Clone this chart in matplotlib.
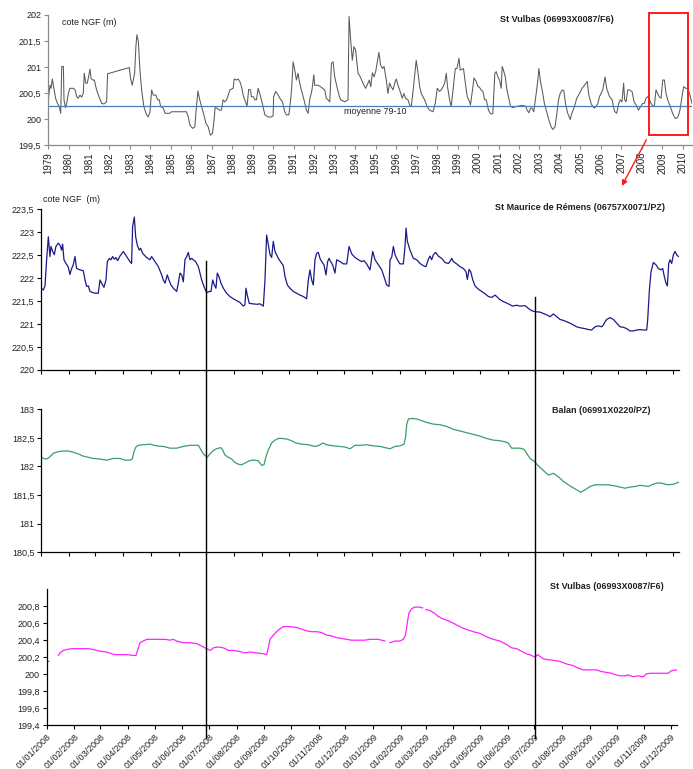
import numpy as np
import matplotlib
matplotlib.use("Agg")
import matplotlib.pyplot as plt
import matplotlib.dates as mdates
import matplotlib.transforms as mtransforms
from matplotlib.lines import Line2D
from matplotlib.patches import Rectangle
from matplotlib.ticker import FuncFormatter, FixedLocator

plt.rcParams['font.family'] = ['Liberation Sans', 'DejaVu Sans']

# --- St Vulbas long record 1979-2010 (decimal year, cote NGF m)
vul_year = [1979.00, 1979.03, 1979.10, 1979.15, 1979.21, 1979.29, 1979.37, 1979.46, 1979.55, 1979.62,
            1979.67, 1979.75, 1979.78, 1979.85, 1979.91, 1979.99, 1980.07, 1980.24, 1980.32, 1980.40,
            1980.48, 1980.56, 1980.64, 1980.72, 1980.77, 1980.84, 1980.92, 1981.00, 1981.05, 1981.10,
            1981.18, 1981.26, 1981.37, 1981.49, 1981.62, 1981.73, 1981.86, 1981.91, 1982.97, 1983.03,
            1983.11, 1983.16, 1983.23, 1983.29, 1983.34, 1983.41, 1983.49, 1983.57, 1983.68, 1983.81,
            1983.89, 1983.98, 1984.06, 1984.14, 1984.27, 1984.35, 1984.43, 1984.50, 1984.63, 1984.71,
            1984.95, 1985.03, 1985.76, 1985.85, 1985.93, 1986.06, 1986.17, 1986.22, 1986.32, 1986.41,
            1986.50, 1986.61, 1986.71, 1986.82, 1986.93, 1987.03, 1987.11, 1987.16, 1987.23, 1987.39,
            1987.47, 1987.55, 1987.63, 1987.72, 1987.80, 1987.88, 1988.04, 1988.09, 1988.20, 1988.28,
            1988.37, 1988.45, 1988.53, 1988.64, 1988.72, 1988.80, 1988.89, 1988.93, 1989.02, 1989.10,
            1989.18, 1989.26, 1989.34, 1989.42, 1989.50, 1989.59, 1989.75, 1989.91, 1989.99, 1990.02,
            1990.12, 1990.24, 1990.32, 1990.45, 1990.56, 1990.64, 1990.76, 1990.85, 1990.90, 1990.97,
            1991.05, 1991.13, 1991.21, 1991.29, 1991.37, 1991.50, 1991.62, 1991.70, 1991.78, 1991.89,
            1991.98, 1992.02, 1992.19, 1992.35, 1992.51, 1992.59, 1992.67, 1992.76, 1992.84, 1992.92,
            1993.00, 1993.11, 1993.21, 1993.29, 1993.49, 1993.65, 1993.70, 1993.78, 1993.86, 1993.94,
            1994.02, 1994.14, 1994.25, 1994.38, 1994.51, 1994.58, 1994.69, 1994.76, 1994.84, 1994.92,
            1995.00, 1995.16, 1995.24, 1995.33, 1995.41, 1995.52, 1995.60, 1995.68, 1995.76, 1995.85,
            1995.93, 1996.01, 1996.09, 1996.17, 1996.30, 1996.38, 1996.46, 1996.58, 1996.66, 1996.74,
            1996.85, 1996.98, 1997.07, 1997.15, 1997.23, 1997.39, 1997.50, 1997.63, 1997.80, 1997.91,
            1998.01, 1998.12, 1998.20, 1998.29, 1998.37, 1998.45, 1998.51, 1998.61, 1998.69, 1998.81,
            1998.89, 1998.97, 1999.07, 1999.13, 1999.23, 1999.29, 1999.37, 1999.47, 1999.59, 1999.63,
            1999.75, 1999.80, 1999.91, 1999.99, 2000.07, 2000.15, 2000.24, 2000.32, 2000.40, 2000.51,
            2000.61, 2000.72, 2000.77, 2000.82, 2000.89, 2000.97, 2001.05, 2001.13, 2001.18, 2001.24,
            2001.33, 2001.41, 2001.50, 2001.59, 2001.70, 2001.86, 2002.11, 2002.32, 2002.40, 2002.48,
            2002.56, 2002.64, 2002.72, 2002.84, 2002.92, 2002.97, 2003.05, 2003.13, 2003.24, 2003.33,
            2003.46, 2003.57, 2003.65, 2003.76, 2003.85, 2003.93, 2004.01, 2004.11, 2004.19, 2004.27,
            2004.38, 2004.50, 2004.58, 2004.71, 2004.82, 2004.95, 2005.08, 2005.20, 2005.33, 2005.41,
            2005.52, 2005.60, 2005.68, 2005.76, 2005.85, 2005.93, 2006.09, 2006.20, 2006.28, 2006.42,
            2006.55, 2006.61, 2006.68, 2006.77, 2006.87, 2006.95, 2007.03, 2007.11, 2007.16, 2007.23,
            2007.31, 2007.39, 2007.52, 2007.62, 2007.72, 2007.83, 2007.96, 2008.04, 2008.12, 2008.20,
            2008.29, 2008.37, 2008.45, 2008.53, 2008.61, 2008.69, 2008.77, 2008.85, 2008.94, 2009.02,
            2009.10, 2009.18, 2009.26, 2009.39, 2009.50, 2009.63, 2009.75, 2009.86, 2009.96, 2010.04,
            2010.15, 2010.24, 2010.35, 2010.45]
vul_level = [200.11, 200.43, 200.65, 200.59, 200.77, 200.59, 200.40, 200.30, 200.24, 200.11,
             201.01, 201.01, 200.37, 200.22, 200.30, 200.49, 200.59, 200.59, 200.56, 200.43,
             200.40, 200.46, 200.42, 200.49, 200.88, 200.69, 200.69, 200.85, 200.96, 200.78,
             200.75, 200.75, 200.56, 200.43, 200.30, 200.29, 200.33, 200.87, 200.99, 200.78,
             200.65, 200.75, 200.88, 201.39, 201.62, 201.49, 200.94, 200.56, 200.24, 200.08,
             200.04, 200.14, 200.56, 200.46, 200.46, 200.37, 200.37, 200.24, 200.21, 200.11,
             200.11, 200.14, 200.14, 200.04, 199.88, 199.82, 199.85, 200.11, 200.54, 200.37,
             200.24, 200.08, 199.92, 199.85, 199.69, 199.72, 199.98, 200.22, 200.21, 200.17,
             200.17, 200.37, 200.33, 200.37, 200.46, 200.56, 200.59, 200.77, 200.75, 200.77,
             200.72, 200.62, 200.46, 200.33, 200.25, 200.57, 200.56, 200.43, 200.43, 200.37,
             200.37, 200.59, 200.49, 200.37, 200.24, 200.08, 200.04, 200.04, 200.06, 200.43,
             200.53, 200.46, 200.40, 200.33, 200.14, 200.08, 200.08, 200.37, 200.61, 201.10,
             200.94, 200.75, 200.88, 200.69, 200.56, 200.37, 200.17, 200.11, 200.37, 200.56,
             200.85, 200.65, 200.65, 200.61, 200.56, 200.40, 200.37, 200.33, 201.07, 201.10,
             200.81, 200.62, 200.46, 200.37, 200.33, 200.37, 201.97, 201.52, 201.13, 201.39,
             201.33, 200.88, 200.81, 200.69, 200.59, 200.65, 200.75, 200.62, 200.89, 200.81,
             200.91, 201.28, 201.04, 200.97, 201.01, 200.75, 200.49, 200.69, 200.62, 200.56,
             200.69, 200.77, 200.65, 200.56, 200.40, 200.49, 200.40, 200.37, 200.27, 200.24,
             200.62, 201.13, 200.88, 200.62, 200.49, 200.37, 200.25, 200.17, 200.14, 200.30,
             200.59, 200.53, 200.56, 200.62, 200.69, 200.88, 200.62, 200.37, 200.24, 200.69,
             200.97, 200.97, 201.17, 200.94, 200.96, 200.97, 200.72, 200.43, 200.33, 200.27,
             200.62, 200.79, 200.72, 200.63, 200.61, 200.56, 200.53, 200.37, 200.37, 200.17,
             200.10, 200.10, 200.49, 200.88, 200.91, 200.81, 200.75, 200.59, 201.01, 200.94,
             200.81, 200.56, 200.40, 200.24, 200.22, 200.24, 200.26, 200.25, 200.17, 200.12,
             200.21, 200.21, 200.14, 200.49, 200.75, 200.97, 200.72, 200.56, 200.30, 200.17,
             199.98, 199.85, 199.80, 199.85, 200.11, 200.37, 200.49, 200.56, 200.54, 200.30,
             200.11, 199.99, 200.11, 200.24, 200.40, 200.49, 200.59, 200.65, 200.72, 200.46,
             200.30, 200.24, 200.21, 200.24, 200.30, 200.43, 200.56, 200.81, 200.59, 200.43,
             200.37, 200.24, 200.14, 200.11, 200.30, 200.37, 200.33, 200.69, 200.37, 200.33,
             200.56, 200.56, 200.53, 200.33, 200.27, 200.17, 200.25, 200.30, 200.30, 200.40,
             200.43, 200.37, 200.30, 200.25, 200.25, 200.56, 200.49, 200.43, 200.40, 200.75,
             200.75, 200.49, 200.37, 200.24, 200.11, 200.01, 200.03, 200.17, 200.43, 200.62,
             200.59, 200.59, 200.46, 200.30]
vul_mean = 200.25  # moyenne 79-10
vul_years = list(range(1979, 2011))

# --- 2008-2009 records (days since 01/01/2008, cote NGF m)
mau_day = [0, 2.2, 4.1, 5.9, 7.8, 9.6, 10.7, 12.6, 14.4, 16.2, 18.8, 20.7, 22.5, 23.6, 25.1, 27.3,
           29.9, 31.7, 33.6, 35.4, 37.3, 39.1, 42.8, 46.5, 48.4, 50.2, 52.1, 53.9, 57.6, 61.3, 63.1,
           65.0, 66.8, 69.4, 71.6, 73.1, 75.3, 77.2, 79.0, 80.9, 82.7, 84.5, 87.1, 90.8, 94.5, 98.2,
           100.0, 101.1, 103.0, 104.5, 106.3, 108.5, 110.0, 112.2, 116.6, 120.3, 122.2, 125.9, 129.6,
           133.3, 135.1, 137.0, 139.5, 141.4, 143.6, 146.2, 149.9, 151.7, 153.6, 155.4, 157.3, 159.1,
           161.0, 162.8, 164.6, 166.5, 168.3, 170.9, 173.9, 177.6, 180.1, 183.1, 186.0, 187.9, 189.8,
           191.6, 193.4, 194.9, 196.8, 199.0, 201.6, 205.2, 208.9, 212.6, 216.3, 220.0, 223.7, 225.5,
           226.6, 228.1, 230.3, 234.0, 238.5, 242.2, 245.9, 247.7, 249.5, 251.4, 253.3, 255.1, 256.9,
           258.8, 262.5, 266.2, 268.0, 269.9, 272.5, 275.4, 279.1, 282.8, 286.5, 290.2, 293.8, 295.7,
           297.5, 299.4, 301.2, 303.1, 304.9, 306.8, 308.6, 310.5, 313.0, 315.3, 317.1, 318.6, 320.4,
           322.6, 325.2, 327.1, 330.8, 334.5, 338.2, 340.8, 343.7, 347.4, 351.1, 354.8, 357.4, 360.3,
           364.0, 367.0, 369.6, 373.3, 377.0, 379.5, 382.5, 385.1, 386.2, 388.0, 389.9, 391.7, 394.3,
           397.2, 400.9, 402.8, 403.9, 405.4, 408.3, 412.0, 415.7, 419.4, 423.1, 426.0, 428.6, 430.5,
           432.3, 434.2, 436.7, 439.7, 443.4, 447.1, 450.8, 452.6, 454.5, 456.3, 460.0, 463.7, 467.4,
           470.3, 471.8, 473.7, 475.5, 477.7, 480.3, 484.0, 487.7, 491.4, 495.1, 498.8, 502.5, 504.3,
           507.3, 511.7, 517.2, 522.0, 526.4, 530.1, 535.7, 539.4, 543.1, 546.7, 552.3, 556.0, 559.7,
           563.4, 567.1, 570.7, 574.4, 578.1, 581.8, 585.5, 589.2, 592.9, 596.6, 602.1, 605.8, 609.5,
           613.2, 616.9, 620.6, 622.4, 624.3, 626.1, 629.8, 633.5, 637.2, 640.9, 644.6, 648.3, 652.0,
           655.6, 659.3, 663.0, 666.7, 670.4, 671.5, 673.4, 675.2, 677.8, 680.7, 683.3, 685.9, 688.1,
           690.0, 691.8, 693.3, 694.8, 696.2, 698.1, 700.0, 701.8, 703.6, 705.5]
mau_level = [221.78, 221.74, 221.83, 222.40, 222.90, 222.47, 222.69, 222.58, 222.51, 222.69, 222.76,
             222.72, 222.61, 222.74, 222.40, 222.32, 222.24, 222.08, 222.21, 222.29, 222.47, 222.21,
             222.18, 222.16, 221.96, 221.82, 221.83, 221.71, 221.68, 221.67, 221.67, 221.96, 221.89,
             221.80, 221.96, 222.36, 222.43, 222.40, 222.47, 222.41, 222.45, 222.38, 222.48, 222.58,
             222.47, 222.36, 222.32, 223.12, 223.33, 222.90, 222.72, 222.61, 222.65, 222.54, 222.45,
             222.40, 222.47, 222.36, 222.25, 222.07, 221.96, 221.89, 222.07, 221.96, 221.85, 221.78,
             221.71, 221.89, 222.11, 222.07, 221.92, 222.40, 222.47, 222.56, 222.40, 222.43, 222.40,
             222.36, 222.25, 221.96, 221.82, 221.68, 221.71, 221.71, 221.96, 221.85, 221.78, 222.11,
             222.03, 221.89, 221.78, 221.67, 221.60, 221.55, 221.51, 221.47, 221.39, 221.42, 221.78,
             221.63, 221.45, 221.44, 221.43, 221.44, 221.39, 221.96, 222.94, 222.72, 222.51, 222.45,
             222.80, 222.58, 222.43, 222.32, 222.27, 222.03, 221.85, 221.78, 221.71, 221.67, 221.63,
             221.60, 221.55, 221.96, 222.18, 221.96, 221.85, 222.40, 222.54, 222.56, 222.43, 222.36,
             222.29, 222.07, 222.36, 222.43, 222.36, 222.29, 222.11, 222.40, 222.36, 222.31, 222.31,
             222.69, 222.53, 222.45, 222.40, 222.36, 222.38, 222.31, 222.18, 222.58, 222.40, 222.29,
             222.18, 222.03, 221.85, 221.82, 222.40, 222.45, 222.69, 222.51, 222.40, 222.31, 222.31,
             222.69, 223.09, 222.80, 222.61, 222.43, 222.40, 222.32, 222.27, 222.25, 222.41, 222.48,
             222.40, 222.51, 222.56, 222.48, 222.43, 222.34, 222.32, 222.36, 222.43, 222.36, 222.31,
             222.25, 222.21, 222.14, 221.97, 222.19, 222.14, 221.97, 221.83, 221.76, 221.71, 221.66,
             221.60, 221.58, 221.63, 221.60, 221.54, 221.49, 221.44, 221.39, 221.41, 221.39, 221.40,
             221.34, 221.29, 221.27, 221.26, 221.23, 221.20, 221.16, 221.22, 221.16, 221.10, 221.08,
             221.05, 221.02, 220.98, 220.94, 220.92, 220.90, 220.88, 220.87, 220.94, 220.96, 220.94,
             220.98, 221.05, 221.10, 221.14, 221.10, 221.02, 220.94, 220.93, 220.90, 220.85, 220.85,
             220.87, 220.88, 220.87, 220.87, 221.09, 221.74, 222.14, 222.34, 222.29, 222.21, 222.18,
             222.21, 222.03, 221.89, 221.83, 222.32, 222.40, 222.32, 222.51, 222.58, 222.51, 222.47]

bal_day = [0, 2.2, 5.9, 9.6, 13.3, 18.8, 24.4, 29.9, 35.4, 40.9, 46.5, 52.0, 57.6, 65.0, 72.4, 79.7,
           87.1, 92.7, 98.2, 100.8, 102.6, 104.8, 107.4, 113.0, 120.3, 127.7, 135.1, 142.5, 149.9,
           157.3, 164.6, 173.9, 175.7, 179.4, 183.8, 186.8, 190.5, 194.2, 198.6, 200.8, 203.4, 207.1,
           210.8, 214.5, 218.2, 221.9, 225.5, 229.2, 232.9, 236.6, 240.3, 242.2, 244.0, 246.6, 248.8,
           251.4, 255.1, 258.8, 262.5, 266.2, 271.7, 277.2, 282.0, 288.3, 295.7, 303.1, 307.9, 311.6,
           316.0, 323.4, 330.8, 336.3, 341.9, 347.4, 352.9, 360.3, 367.7, 375.1, 380.6, 386.2, 391.7,
           397.2, 401.7, 403.5, 404.6, 406.5, 410.2, 415.7, 421.2, 426.8, 434.2, 441.5, 448.9, 456.3,
           463.7, 471.1, 478.5, 485.8, 493.2, 500.6, 508.0, 513.5, 517.2, 520.9, 524.6, 530.1, 534.6,
           537.5, 541.2, 546.0, 550.4, 556.0, 561.5, 567.1, 572.6, 578.1, 585.5, 592.9, 597.3, 602.1,
           607.7, 613.2, 620.6, 628.0, 635.3, 640.9, 646.4, 652.0, 657.5, 663.0, 668.6, 672.3, 676.0,
           681.5, 687.0, 690.7, 694.4, 700.0, 703.6, 706.6]
bal_level = [182.17, 182.14, 182.13, 182.17, 182.23, 182.26, 182.27, 182.27, 182.25, 182.22, 182.18,
             182.16, 182.14, 182.13, 182.11, 182.14, 182.14, 182.11, 182.11, 182.13, 182.26, 182.34,
             182.37, 182.38, 182.39, 182.36, 182.35, 182.32, 182.32, 182.35, 182.37, 182.37, 182.32,
             182.22, 182.16, 182.22, 182.28, 182.31, 182.33, 182.29, 182.20, 182.16, 182.13, 182.07,
             182.04, 182.03, 182.06, 182.09, 182.11, 182.11, 182.10, 182.06, 182.02, 182.03, 182.17,
             182.29, 182.41, 182.46, 182.49, 182.49, 182.48, 182.45, 182.41, 182.39, 182.38, 182.35,
             182.37, 182.41, 182.38, 182.36, 182.35, 182.34, 182.31, 182.37, 182.37, 182.38, 182.36,
             182.35, 182.33, 182.31, 182.35, 182.36, 182.39, 182.52, 182.73, 182.83, 182.84, 182.83,
             182.80, 182.77, 182.74, 182.73, 182.70, 182.65, 182.62, 182.59, 182.56, 182.53, 182.49,
             182.46, 182.45, 182.43, 182.41, 182.32, 182.32, 182.32, 182.30, 182.23, 182.14, 182.09,
             182.01, 181.93, 181.85, 181.88, 181.82, 181.74, 181.66, 181.59, 181.55, 181.59, 181.65,
             181.68, 181.68, 181.68, 181.66, 181.64, 181.62, 181.64, 181.65, 181.67, 181.66, 181.65,
             181.68, 181.71, 181.71, 181.69, 181.68, 181.69, 181.71, 181.73]

# NaN marks the holes in the St Vulbas record
stv_day = [0, 2.6, 7.0, 13.1, 14.9, 18.7, 22.4, 28.0, 33.6, 41.1, 46.7, 52.3, 59.8, 67.3, 72.9, 76.6,
           82.2, 89.7, 97.2, 100.1, 102.8, 104.6, 108.4, 112.1, 119.6, 127.1, 132.7, 138.3, 142.0,
           145.7, 153.2, 160.7, 168.2, 173.8, 177.5, 181.2, 183.9, 186.8, 192.5, 198.1, 203.7, 209.3,
           214.9, 222.3, 228.0, 235.4, 242.9, 246.6, 248.5, 250.4, 254.1, 259.7, 265.3, 272.8, 280.3,
           285.9, 291.5, 297.1, 302.7, 308.3, 313.9, 319.5, 325.1, 330.7, 336.3, 341.9, 349.4, 356.8,
           362.4, 368.0, 371.8, 375.5, 379.2, 382.0, 384.9, 390.5, 396.1, 399.8, 402.4, 404.3, 406.2,
           409.1, 412.9, 418.5, 421.5, 423.3, 425.2, 429.7, 434.6, 439.0, 444.6, 450.3, 455.9, 461.5,
           467.1, 472.7, 478.3, 485.8, 493.2, 500.7, 508.2, 515.6, 521.2, 526.9, 532.5, 538.1, 543.7,
           547.4, 549.3, 551.1, 553.0, 556.8, 562.4, 569.8, 575.4, 582.9, 590.4, 596.0, 601.6, 609.1,
           616.5, 622.1, 627.8, 633.4, 639.0, 642.7, 648.3, 652.1, 657.7, 663.2, 667.0, 669.6, 671.9,
           676.3, 683.8, 691.3, 696.9, 700.6, 706.2]
stv_level = [200.15, 200.15, np.nan, 200.22, 200.25, 200.28, 200.29, 200.30, 200.30, 200.30, 200.30,
             200.29, 200.27, 200.26, 200.24, 200.23, 200.23, 200.23, 200.22, 200.22, 200.31, 200.37,
             200.39, 200.41, 200.41, 200.41, 200.41, 200.40, 200.41, 200.39, 200.37, 200.37, 200.36,
             200.33, 200.31, 200.29, 200.28, 200.31, 200.32, 200.31, 200.28, 200.28, 200.27, 200.25,
             200.26, 200.25, 200.24, 200.23, 200.31, 200.41, 200.46, 200.52, 200.56, 200.56, 200.55,
             200.53, 200.51, 200.50, 200.50, 200.49, 200.46, 200.45, 200.43, 200.42, 200.41, 200.40,
             200.40, 200.40, 200.41, 200.41, 200.41, 200.40, 200.39, np.nan, 200.37, 200.39, 200.39,
             200.41, 200.46, 200.60, 200.72, 200.77, 200.79, 200.79, 200.78, np.nan, 200.76, 200.75,
             200.72, 200.68, 200.65, 200.63, 200.60, 200.57, 200.54, 200.52, 200.50, 200.48, 200.44,
             200.41, 200.39, 200.35, 200.31, 200.30, 200.27, 200.24, 200.22, 200.20, 200.22, 200.23,
             200.21, 200.18, 200.17, 200.16, 200.15, 200.12, 200.10, 200.07, 200.05, 200.05, 200.05,
             200.03, 200.02, 200.01, 199.99, 199.98, 199.98, 199.99, 199.97, 199.98, 199.97, 199.97,
             200.00, 200.01, 200.01, 200.01, 200.01, 200.04, 200.05]

marker_dates = ['2008-07-01', '2009-07-01']

INK = '#222222'
TICK_FS = 6.5
TITLE_FS = 6.5


def comma(v, pos):
    s = ('%.1f' % v).rstrip('0').rstrip('.')
    return s.replace('.', ',')


def style_axes(ax, spine_color):
    for side in ['top', 'right']:
        ax.spines[side].set_visible(False)
    for side in ['left', 'bottom']:
        ax.spines[side].set_color(spine_color)
        ax.spines[side].set_linewidth(0.9)
    ax.tick_params(axis='both', direction='out', length=3, width=0.8, color=spine_color,
                   labelsize=TICK_FS, labelcolor=INK, pad=2)
    ax.yaxis.set_major_formatter(FuncFormatter(comma))


fig = plt.figure(figsize=(6.93, 7.69), dpi=100)

# ---- long-term record
ax0 = fig.add_axes([0.0693, 0.8114, 0.9293, 0.1691])
style_axes(ax0, '#8a8a8a')
ax0.plot(vul_year, vul_level, color='#5a5a5a', lw=0.75)
ax0.axhline(vul_mean, color='#4a7ebb', lw=0.9)
ax0.text(1993.45, vul_mean - 0.1, 'moyenne 79-10', fontsize=TICK_FS, color=INK, va='center')
ax0.set_xlim(1979, 2010.45)
ax0.set_ylim(199.5, 202)
ax0.yaxis.set_major_locator(FixedLocator(np.arange(199.5, 202.01, 0.5)))
ax0.set_xticks(vul_years)
ax0.set_xticklabels([str(y) for y in vul_years], rotation=90, fontsize=7)
ax0.text(0.022, 0.946, 'cote NGF (m)', transform=ax0.transAxes, fontsize=TICK_FS,
         color=INK, va='center')
ax0.text(0.879, 0.962, 'St Vulbas (06993X0087/F6)', transform=ax0.transAxes,
         fontsize=TITLE_FS, fontweight='bold', color=INK, ha='right', va='center')

# zoom frame on 2008-2010
ax0.add_patch(Rectangle((2008.37, 199.69), 1.90, 2.35, fill=False, edgecolor='#ff1a1a',
                        lw=1.4, clip_on=False, zorder=5))

# ---- 2008-2009 panels
base = mdates.date2num(np.datetime64('2008-01-01'))
xlim = (base, base + 706.5)

ax1 = fig.add_axes([0.0596, 0.5189, 0.9206, 0.2090])
ax2 = fig.add_axes([0.0596, 0.2818, 0.9206, 0.1860])
ax3 = fig.add_axes([0.0674, 0.0572, 0.9091, 0.1765])

panels = [
    (ax1, mau_day, mau_level, '#1a1a8c', (220, 223.5), np.arange(220, 223.51, 0.5)),
    (ax2, bal_day, bal_level, '#3a9e6a', (180.5, 183), np.arange(180.5, 183.01, 0.5)),
    (ax3, stv_day, stv_level, '#ff22ff', (199.4, 201), np.arange(199.4, 200.81, 0.2)),
]
for ax, day, level, color, ylim, yticks in panels:
    style_axes(ax, 'black')
    ax.plot(base + np.array(day), level, color=color, lw=0.9)
    ax.set_xlim(*xlim)
    ax.set_ylim(*ylim)
    ax.yaxis.set_major_locator(FixedLocator(yticks))
    ax.xaxis.set_major_locator(mdates.MonthLocator(bymonthday=1))
    if ax is ax3:
        ax.xaxis.set_major_formatter(mdates.DateFormatter('%d/%m/%Y'))
        plt.setp(ax.get_xticklabels(), rotation=45, ha='right', rotation_mode='anchor',
                 fontsize=TICK_FS)
    else:
        ax.set_xticklabels([])

ax1.text(0.003, 1.058, 'cote NGF  (m)', transform=ax1.transAxes, fontsize=TICK_FS, color=INK,
         va='center')
ax1.text(0.977, 1.008, 'St Maurice de Rémens (06757X0071/PZ)', transform=ax1.transAxes,
         fontsize=TITLE_FS, fontweight='bold', color=INK, ha='right', va='center')
ax2.text(0.955, 0.988, 'Balan (06991X0220/PZ)', transform=ax2.transAxes,
         fontsize=TITLE_FS, fontweight='bold', color=INK, ha='right', va='center')
ax3.text(0.98, 1.019, 'St Vulbas (06993X0087/F6)', transform=ax3.transAxes,
         fontsize=TITLE_FS, fontweight='bold', color=INK, ha='right', va='center')

# red arrow from the zoom frame down to the detailed panels
ax0.annotate('', xy=(0.910, 1.145), xycoords=ax1.transAxes,
             xytext=(2008.22, 199.6), textcoords='data',
             arrowprops=dict(arrowstyle='-|>', color='#ff1a1a', lw=1.0,
                             mutation_scale=8, shrinkA=0, shrinkB=0))

# half-year markers crossing the three detail panels
trans = mtransforms.blended_transform_factory(ax1.transData, fig.transFigure)
for d, top in zip(marker_dates, [0.6606, 0.6138]):
    xd = mdates.date2num(np.datetime64(d))
    fig.add_artist(Line2D([xd, xd], [top, 0.0403], transform=trans, color='black', lw=1.0))

fig.savefig('out.png', dpi=100)
